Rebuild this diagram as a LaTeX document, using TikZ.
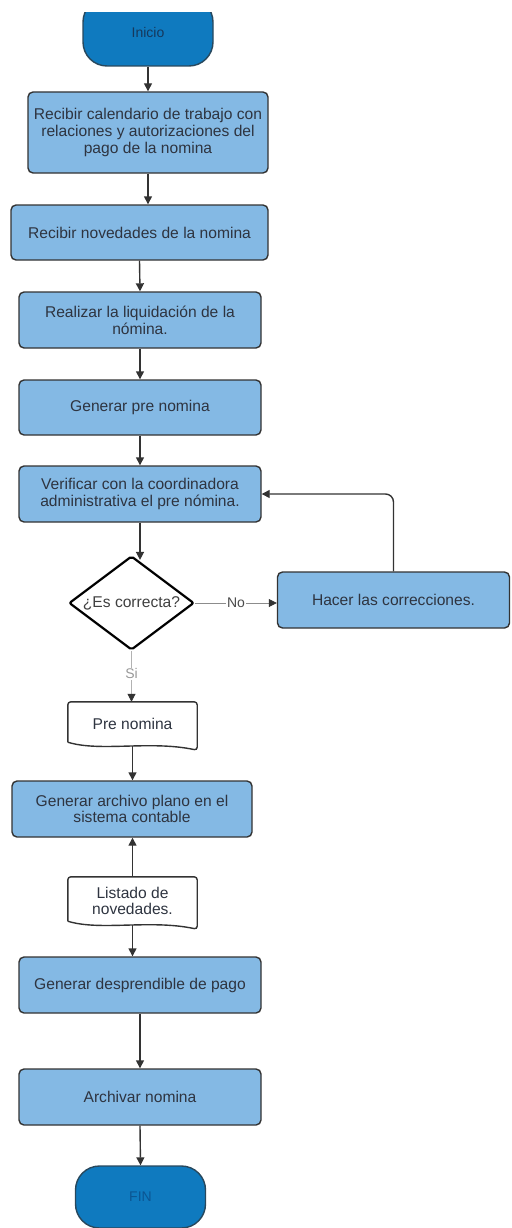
\documentclass[tikz,border=0pt]{standalone}
\usepackage{fontspec}
\setmainfont{Liberation Sans}
\usetikzlibrary{arrows.meta,shapes.geometric}
\definecolor{boxblue}{HTML}{84B9E4}
\definecolor{termblue}{HTML}{0F7ABF}
\definecolor{edgegray}{HTML}{333333}
\definecolor{txtgray}{HTML}{2E3440}
\tikzset{
  proc/.style={draw=edgegray,fill=boxblue,line width=1.4pt,rounded corners=5pt,
    inner sep=0pt,align=center,text=txtgray},
  term/.style={draw=edgegray!70!termblue,fill=termblue,line width=1.4pt,rounded corners=24pt,
    minimum width=130pt,inner sep=0pt,font=\fontsize{14}{16}\selectfont},
  decision/.style={diamond,draw=black,fill=white,line width=2.2pt,rounded corners=2pt,
    minimum width=125pt,minimum height=94pt,aspect=1.33,inner sep=0pt,text=black!75},
  docu/.style={minimum width=129pt,inner sep=0pt,align=center,text=txtgray},
  docline/.style={draw=edgegray,line width=1.4pt,rounded corners=3pt},
  flow/.style={draw=edgegray,line width=1.4pt,-{Triangle[length=8pt,width=8pt]}},
  noline/.style={draw=black!45,line width=0.8pt,-{Triangle[length=8pt,width=8pt,color=edgegray]}},
  lbl/.style={fill=white,inner sep=1pt,font=\fontsize{14}{16}\selectfont}
}
\newcommand{\docshape}[1]{%
  \draw[docline] ([yshift=4pt]#1.south west) -- (#1.north west) -- (#1.north east)
    -- ([yshift=-4pt]#1.south east)
    .. controls ([xshift=17.5pt,yshift=6pt]#1.south) and ([xshift=-32.5pt,yshift=-6pt]#1.south)
    .. ([yshift=4pt]#1.south west);}
\begin{document}
\begin{tikzpicture}[x=1pt,y=-1pt,font=\fontsize{15.6}{16.8}\selectfont]
\useasboundingbox (0,0) rectangle (511,1228);
% start, cut at the top
\begin{scope}
\clip (0,13) rectangle (511,90);
\node[term,minimum height=68pt,text={rgb,255:red,22;green,56;blue,92}] (ini) at (148,32) {Inicio};
\end{scope}
% steps
\node[proc,minimum width=240pt,minimum height=81pt] (cal) at (148,132.5)
  {Recibir calendario de trabajo con\\relaciones y autorizaciones del\\pago de la nomina};
\node[proc,minimum width=257pt,minimum height=55pt] (nov) at (139.5,232.5) {Recibir novedades de la nomina};
\node[proc,minimum width=242pt,minimum height=56pt] (liq) at (140,320) {Realizar la liquidación de la\\nómina.};
\node[proc,minimum width=242pt,minimum height=55pt] (pre) at (140,407.5) {Generar pre nomina};
\node[proc,minimum width=242pt,minimum height=56pt] (verif) at (140,494)
  {Verificar con la coordinadora\\administrativa el pre nómina.};
\node[decision] (ok) at (131.5,603) {¿Es correcta?};
\node[proc,minimum width=232pt,minimum height=56pt] (corr) at (393.5,600) {Hacer las correcciones.};
\node[docu,minimum height=44pt] (prenom) at (132.5,724) {Pre nomina};
\docshape{prenom}
\node[proc,minimum width=240pt,minimum height=56pt] (plano) at (132,809)
  {Generar archivo plano en el\\sistema contable};
\node[docu,minimum height=48pt] (listado) at (132.5,901) {Listado de\\novedades.};
\docshape{listado}
\node[proc,minimum width=242pt,minimum height=56pt] (desp) at (140,985) {Generar desprendible de pago};
\node[proc,minimum width=242pt,minimum height=56pt] (arch) at (140,1097) {Archivar nomina};
\node[term,minimum height=62pt,text={rgb,255:red,11;green,85;blue,146}] (fin) at (140.5,1197) {FIN};
% connectors
\draw[flow] (ini.south -| cal.north) -- (cal.north);
\draw[flow] (cal.south) -- (cal.south |- nov.north);
\draw[flow] (nov.south) -- (liq.north);
\draw[flow] (liq.south) -- (pre.north);
\draw[flow] (pre.south) -- (verif.north);
\draw[flow] (verif.south) -- ([yshift=-5pt]verif.south |- ok.north);
\draw[noline] (ok.east) -- node[lbl,text=black!70] {No} (ok.east -| corr.west);
\draw[flow,rounded corners=8pt] (corr.north) |- (verif.east);
\draw[noline,draw=black!30] (ok.south) -- node[lbl,text=black!40,pos=0.45] {Si} (ok.south |- prenom.north);
\draw[flow] (prenom.south) -- (prenom.south |- plano.north);
\draw[flow] (listado.north) -- (listado.north |- plano.south);
\draw[flow] (listado.south) -- (listado.south |- desp.north);
\draw[flow] (desp.south) -- (arch.north);
\draw[flow] (arch.south) -- (fin.north);
\end{tikzpicture}
\end{document}
